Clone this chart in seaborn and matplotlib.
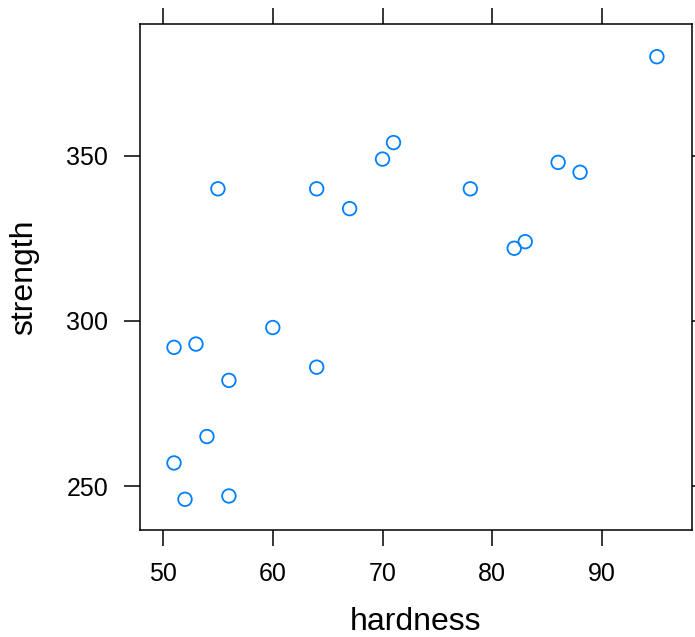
import pandas as pd
import matplotlib
matplotlib.use('Agg')
import matplotlib.pyplot as plt
import seaborn as sns

# values
hardness = [95, 71, 70, 55, 64, 67, 78, 86, 88, 82, 83, 60, 51, 53, 56, 64, 54, 51, 52, 56]
strength = [380, 354, 349, 340, 340, 334, 340, 348, 345, 322, 324, 298, 292, 293, 282, 286, 265, 257, 246, 247]

df = pd.DataFrame({'hardness': hardness, 'strength': strength})

sns.set_style('white')
plt.rcParams['font.family'] = ['Liberation Sans', 'DejaVu Sans']
plt.rcParams['text.color'] = 'black'
plt.rcParams['axes.labelcolor'] = 'black'
plt.rcParams['xtick.color'] = 'black'
plt.rcParams['ytick.color'] = 'black'

fig = plt.figure(figsize=(6.95, 6.37), dpi=100)
ax = fig.add_axes([140 / 695, 1 - 530 / 637, 552 / 695, 506 / 637])

sns.scatterplot(data=df, x='hardness', y='strength', ax=ax,
                marker='o', s=95, facecolor='none', edgecolor='#0080ff',
                linewidth=1.3)

ax.set_xlim(47.9, 98.2)
ax.set_ylim(236.7, 389.9)
ax.set_xticks([50, 60, 70, 80, 90])
ax.set_yticks([250, 300, 350])

ax.tick_params(axis='both', which='both', direction='out', length=11.5, width=1.1,
               color='black', labelcolor='black', labelsize=18, pad=11.5,
               top=True, right=True, bottom=True, left=True,
               labeltop=False, labelright=False)
for sp in ax.spines.values():
    sp.set_color('black')
    sp.set_linewidth(1.1)

ax.set_xlabel('hardness', fontsize=23, labelpad=15)
ax.set_ylabel('strength', fontsize=23, labelpad=19)

fig.savefig('out.png', dpi=100)
